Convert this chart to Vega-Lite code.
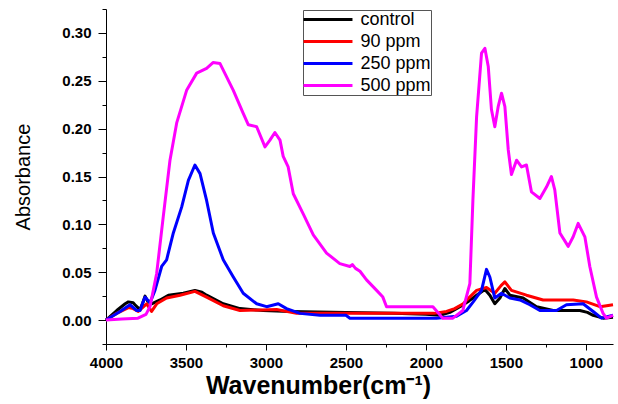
{
  "$schema": "https://vega.github.io/schema/vega-lite/v6.json",
  "width": 507,
  "height": 335,
  "autosize": {"type": "none"},
  "padding": {"left": 106, "top": 9, "right": 5, "bottom": 60},
  "background": "white",
  "config": {
    "view": {"stroke": null},
    "font": "Liberation Sans",
    "axis": {
      "domainColor": "#000000",
      "domainWidth": 1,
      "tickColor": "#000000",
      "tickWidth": 1,
      "grid": false,
      "labelFont": "Liberation Sans",
      "labelFontWeight": "bold",
      "labelFontSize": 15,
      "labelColor": "#000000",
      "titleFont": "Liberation Sans",
      "titleColor": "#000000"
    }
  },
  "data": {
    "values": [
      {"s": "control", "w": 4000, "a": 0.0},
      {"s": "control", "w": 3933, "a": 0.010},
      {"s": "control", "w": 3880, "a": 0.017},
      {"s": "control", "w": 3860, "a": 0.019},
      {"s": "control", "w": 3830, "a": 0.018},
      {"s": "control", "w": 3819, "a": 0.016},
      {"s": "control", "w": 3787, "a": 0.011},
      {"s": "control", "w": 3770, "a": 0.018},
      {"s": "control", "w": 3756, "a": 0.025},
      {"s": "control", "w": 3740, "a": 0.020},
      {"s": "control", "w": 3715, "a": 0.017},
      {"s": "control", "w": 3662, "a": 0.021},
      {"s": "control", "w": 3610, "a": 0.026},
      {"s": "control", "w": 3517, "a": 0.028},
      {"s": "control", "w": 3444, "a": 0.031},
      {"s": "control", "w": 3400, "a": 0.029},
      {"s": "control", "w": 3371, "a": 0.026},
      {"s": "control", "w": 3267, "a": 0.017},
      {"s": "control", "w": 3162, "a": 0.012},
      {"s": "control", "w": 3017, "a": 0.010},
      {"s": "control", "w": 2850, "a": 0.009},
      {"s": "control", "w": 2500, "a": 0.008},
      {"s": "control", "w": 2200, "a": 0.007},
      {"s": "control", "w": 2000, "a": 0.006},
      {"s": "control", "w": 1912, "a": 0.005},
      {"s": "control", "w": 1850, "a": 0.008},
      {"s": "control", "w": 1787, "a": 0.014},
      {"s": "control", "w": 1730, "a": 0.020},
      {"s": "control", "w": 1683, "a": 0.026},
      {"s": "control", "w": 1631, "a": 0.032},
      {"s": "control", "w": 1600, "a": 0.026},
      {"s": "control", "w": 1569, "a": 0.017},
      {"s": "control", "w": 1537, "a": 0.023},
      {"s": "control", "w": 1506, "a": 0.033},
      {"s": "control", "w": 1475, "a": 0.026},
      {"s": "control", "w": 1392, "a": 0.023},
      {"s": "control", "w": 1308, "a": 0.014},
      {"s": "control", "w": 1204, "a": 0.010},
      {"s": "control", "w": 1037, "a": 0.010},
      {"s": "control", "w": 990, "a": 0.008},
      {"s": "control", "w": 954, "a": 0.005},
      {"s": "control", "w": 892, "a": 0.002},
      {"s": "control", "w": 830, "a": 0.003},

      {"s": "90 ppm", "w": 4000, "a": 0.0},
      {"s": "90 ppm", "w": 3933, "a": 0.007},
      {"s": "90 ppm", "w": 3860, "a": 0.013},
      {"s": "90 ppm", "w": 3830, "a": 0.012},
      {"s": "90 ppm", "w": 3798, "a": 0.009},
      {"s": "90 ppm", "w": 3746, "a": 0.017},
      {"s": "90 ppm", "w": 3715, "a": 0.009},
      {"s": "90 ppm", "w": 3683, "a": 0.017},
      {"s": "90 ppm", "w": 3621, "a": 0.023},
      {"s": "90 ppm", "w": 3537, "a": 0.026},
      {"s": "90 ppm", "w": 3444, "a": 0.030},
      {"s": "90 ppm", "w": 3371, "a": 0.024},
      {"s": "90 ppm", "w": 3267, "a": 0.015},
      {"s": "90 ppm", "w": 3162, "a": 0.010},
      {"s": "90 ppm", "w": 2933, "a": 0.011},
      {"s": "90 ppm", "w": 2808, "a": 0.007},
      {"s": "90 ppm", "w": 2500, "a": 0.007},
      {"s": "90 ppm", "w": 2200, "a": 0.007},
      {"s": "90 ppm", "w": 1950, "a": 0.007},
      {"s": "90 ppm", "w": 1871, "a": 0.009},
      {"s": "90 ppm", "w": 1820, "a": 0.012},
      {"s": "90 ppm", "w": 1767, "a": 0.017},
      {"s": "90 ppm", "w": 1720, "a": 0.025},
      {"s": "90 ppm", "w": 1683, "a": 0.031},
      {"s": "90 ppm", "w": 1621, "a": 0.034},
      {"s": "90 ppm", "w": 1569, "a": 0.028},
      {"s": "90 ppm", "w": 1530, "a": 0.036},
      {"s": "90 ppm", "w": 1506, "a": 0.040},
      {"s": "90 ppm", "w": 1465, "a": 0.031},
      {"s": "90 ppm", "w": 1371, "a": 0.026},
      {"s": "90 ppm", "w": 1267, "a": 0.021},
      {"s": "90 ppm", "w": 1079, "a": 0.021},
      {"s": "90 ppm", "w": 996, "a": 0.019},
      {"s": "90 ppm", "w": 912, "a": 0.014},
      {"s": "90 ppm", "w": 870, "a": 0.015},
      {"s": "90 ppm", "w": 830, "a": 0.016},

      {"s": "250 ppm", "w": 4000, "a": 0.0},
      {"s": "250 ppm", "w": 3912, "a": 0.009},
      {"s": "250 ppm", "w": 3850, "a": 0.016},
      {"s": "250 ppm", "w": 3808, "a": 0.010},
      {"s": "250 ppm", "w": 3787, "a": 0.010},
      {"s": "250 ppm", "w": 3770, "a": 0.018},
      {"s": "250 ppm", "w": 3756, "a": 0.024},
      {"s": "250 ppm", "w": 3725, "a": 0.018},
      {"s": "250 ppm", "w": 3694, "a": 0.031},
      {"s": "250 ppm", "w": 3652, "a": 0.056},
      {"s": "250 ppm", "w": 3621, "a": 0.063},
      {"s": "250 ppm", "w": 3579, "a": 0.091},
      {"s": "250 ppm", "w": 3527, "a": 0.118},
      {"s": "250 ppm", "w": 3485, "a": 0.146},
      {"s": "250 ppm", "w": 3444, "a": 0.162},
      {"s": "250 ppm", "w": 3412, "a": 0.153},
      {"s": "250 ppm", "w": 3371, "a": 0.125},
      {"s": "250 ppm", "w": 3329, "a": 0.091},
      {"s": "250 ppm", "w": 3267, "a": 0.063},
      {"s": "250 ppm", "w": 3204, "a": 0.045},
      {"s": "250 ppm", "w": 3142, "a": 0.028},
      {"s": "250 ppm", "w": 3058, "a": 0.017},
      {"s": "250 ppm", "w": 2996, "a": 0.014},
      {"s": "250 ppm", "w": 2923, "a": 0.017},
      {"s": "250 ppm", "w": 2871, "a": 0.012},
      {"s": "250 ppm", "w": 2787, "a": 0.007},
      {"s": "250 ppm", "w": 2662, "a": 0.005},
      {"s": "250 ppm", "w": 2500, "a": 0.005},
      {"s": "250 ppm", "w": 2475, "a": 0.002},
      {"s": "250 ppm", "w": 1933, "a": 0.002},
      {"s": "250 ppm", "w": 1808, "a": 0.004},
      {"s": "250 ppm", "w": 1746, "a": 0.010},
      {"s": "250 ppm", "w": 1704, "a": 0.019},
      {"s": "250 ppm", "w": 1652, "a": 0.031},
      {"s": "250 ppm", "w": 1621, "a": 0.053},
      {"s": "250 ppm", "w": 1600, "a": 0.045},
      {"s": "250 ppm", "w": 1569, "a": 0.023},
      {"s": "250 ppm", "w": 1527, "a": 0.028},
      {"s": "250 ppm", "w": 1475, "a": 0.023},
      {"s": "250 ppm", "w": 1412, "a": 0.021},
      {"s": "250 ppm", "w": 1350, "a": 0.016},
      {"s": "250 ppm", "w": 1287, "a": 0.010},
      {"s": "250 ppm", "w": 1183, "a": 0.010},
      {"s": "250 ppm", "w": 1121, "a": 0.016},
      {"s": "250 ppm", "w": 1017, "a": 0.017},
      {"s": "250 ppm", "w": 954, "a": 0.009},
      {"s": "250 ppm", "w": 902, "a": 0.002},
      {"s": "250 ppm", "w": 830, "a": 0.005},

      {"s": "500 ppm", "w": 4000, "a": 0.0},
      {"s": "500 ppm", "w": 3900, "a": 0.001},
      {"s": "500 ppm", "w": 3800, "a": 0.002},
      {"s": "500 ppm", "w": 3750, "a": 0.006},
      {"s": "500 ppm", "w": 3725, "a": 0.014},
      {"s": "500 ppm", "w": 3683, "a": 0.049},
      {"s": "500 ppm", "w": 3642, "a": 0.108},
      {"s": "500 ppm", "w": 3600, "a": 0.167},
      {"s": "500 ppm", "w": 3558, "a": 0.206},
      {"s": "500 ppm", "w": 3496, "a": 0.240},
      {"s": "500 ppm", "w": 3433, "a": 0.258},
      {"s": "500 ppm", "w": 3371, "a": 0.263},
      {"s": "500 ppm", "w": 3331, "a": 0.269},
      {"s": "500 ppm", "w": 3287, "a": 0.268},
      {"s": "500 ppm", "w": 3204, "a": 0.240},
      {"s": "500 ppm", "w": 3142, "a": 0.216},
      {"s": "500 ppm", "w": 3110, "a": 0.204},
      {"s": "500 ppm", "w": 3058, "a": 0.202},
      {"s": "500 ppm", "w": 3006, "a": 0.181},
      {"s": "500 ppm", "w": 2975, "a": 0.188},
      {"s": "500 ppm", "w": 2944, "a": 0.196},
      {"s": "500 ppm", "w": 2912, "a": 0.188},
      {"s": "500 ppm", "w": 2892, "a": 0.171},
      {"s": "500 ppm", "w": 2861, "a": 0.160},
      {"s": "500 ppm", "w": 2829, "a": 0.132},
      {"s": "500 ppm", "w": 2767, "a": 0.111},
      {"s": "500 ppm", "w": 2704, "a": 0.089},
      {"s": "500 ppm", "w": 2621, "a": 0.070},
      {"s": "500 ppm", "w": 2538, "a": 0.059},
      {"s": "500 ppm", "w": 2475, "a": 0.056},
      {"s": "500 ppm", "w": 2460, "a": 0.058},
      {"s": "500 ppm", "w": 2440, "a": 0.054},
      {"s": "500 ppm", "w": 2412, "a": 0.051},
      {"s": "500 ppm", "w": 2371, "a": 0.042},
      {"s": "500 ppm", "w": 2308, "a": 0.031},
      {"s": "500 ppm", "w": 2269, "a": 0.024},
      {"s": "500 ppm", "w": 2246, "a": 0.014},
      {"s": "500 ppm", "w": 1956, "a": 0.014},
      {"s": "500 ppm", "w": 1894, "a": 0.002},
      {"s": "500 ppm", "w": 1831, "a": 0.002},
      {"s": "500 ppm", "w": 1769, "a": 0.010},
      {"s": "500 ppm", "w": 1725, "a": 0.038},
      {"s": "500 ppm", "w": 1706, "a": 0.125},
      {"s": "500 ppm", "w": 1683, "a": 0.212},
      {"s": "500 ppm", "w": 1652, "a": 0.279},
      {"s": "500 ppm", "w": 1631, "a": 0.284},
      {"s": "500 ppm", "w": 1610, "a": 0.265},
      {"s": "500 ppm", "w": 1590, "a": 0.220},
      {"s": "500 ppm", "w": 1569, "a": 0.202},
      {"s": "500 ppm", "w": 1548, "a": 0.223},
      {"s": "500 ppm", "w": 1527, "a": 0.237},
      {"s": "500 ppm", "w": 1506, "a": 0.223},
      {"s": "500 ppm", "w": 1485, "a": 0.178},
      {"s": "500 ppm", "w": 1465, "a": 0.152},
      {"s": "500 ppm", "w": 1433, "a": 0.167},
      {"s": "500 ppm", "w": 1402, "a": 0.160},
      {"s": "500 ppm", "w": 1371, "a": 0.162},
      {"s": "500 ppm", "w": 1340, "a": 0.134},
      {"s": "500 ppm", "w": 1287, "a": 0.127},
      {"s": "500 ppm", "w": 1246, "a": 0.139},
      {"s": "500 ppm", "w": 1215, "a": 0.150},
      {"s": "500 ppm", "w": 1194, "a": 0.136},
      {"s": "500 ppm", "w": 1162, "a": 0.091},
      {"s": "500 ppm", "w": 1110, "a": 0.077},
      {"s": "500 ppm", "w": 1079, "a": 0.087},
      {"s": "500 ppm", "w": 1048, "a": 0.101},
      {"s": "500 ppm", "w": 1006, "a": 0.087},
      {"s": "500 ppm", "w": 975, "a": 0.056},
      {"s": "500 ppm", "w": 933, "a": 0.024},
      {"s": "500 ppm", "w": 892, "a": 0.007},
      {"s": "500 ppm", "w": 871, "a": 0.002},
      {"s": "500 ppm", "w": 830, "a": 0.005}
    ]
  },
  "mark": {"type": "line", "strokeWidth": 3, "interpolate": "linear", "strokeJoin": "round"},
  "encoding": {
    "x": {
      "field": "w",
      "type": "quantitative",
      "scale": {"domain": [4000, 830], "nice": false, "zero": false},
      "axis": {
        "values": [4000, 3750, 3500, 3250, 3000, 2750, 2500, 2250, 2000, 1750, 1500, 1250, 1000],
        "format": "d",
        "labelExpr": "datum.value % 500 === 0 ? datum.label : ''",
        "tickSize": {"condition": {"test": "datum.value % 500 === 0", "value": 6}, "value": 3},
        "labelPadding": 5,
        "labelFlush": false,
        "labelOverlap": false,
        "title": "Wavenumber(cm⁻¹)",
        "titleFontSize": 25,
        "titleFontWeight": "bold",
        "titlePadding": 3,
        "titleX": 212
      }
    },
    "y": {
      "field": "a",
      "type": "quantitative",
      "scale": {"domain": [-0.025, 0.325], "nice": false, "zero": false},
      "axis": {
        "values": [-0.025, 0, 0.025, 0.05, 0.075, 0.1, 0.125, 0.15, 0.175, 0.2, 0.225, 0.25, 0.275, 0.3, 0.325],
        "format": ".2f",
        "labelExpr": "round(datum.value * 1000) % 50 === 0 && datum.value >= 0 ? datum.label : ''",
        "tickSize": {"condition": {"test": "round(datum.value * 1000) % 50 === 0", "value": 8}, "value": 4},
        "labelPadding": 7,
        "labelFlush": false,
        "labelOverlap": false,
        "title": "Absorbance",
        "titleFontSize": 20,
        "titleFontWeight": "normal",
        "titlePadding": 28
      }
    },
    "color": {
      "field": "s",
      "type": "nominal",
      "sort": ["control", "90 ppm", "250 ppm", "500 ppm"],
      "scale": {
        "domain": ["control", "90 ppm", "250 ppm", "500 ppm"],
        "range": ["#000000", "#ff0000", "#0000ff", "#ff00ff"]
      },
      "legend": {
        "title": null,
        "orient": "none",
        "legendX": 197,
        "legendY": 1,
        "symbolType": "M-3.06,0H3.06",
        "symbolSize": 256,
        "symbolStrokeWidth": 3,
        "symbolOffset": 15.5,
        "labelFont": "Liberation Sans",
        "labelFontSize": 18,
        "labelColor": "#000000",
        "labelOffset": 23,
        "strokeColor": "#555555",
        "fillColor": "white",
        "padding": 0,
        "rowPadding": 3
      }
    }
  }
}
